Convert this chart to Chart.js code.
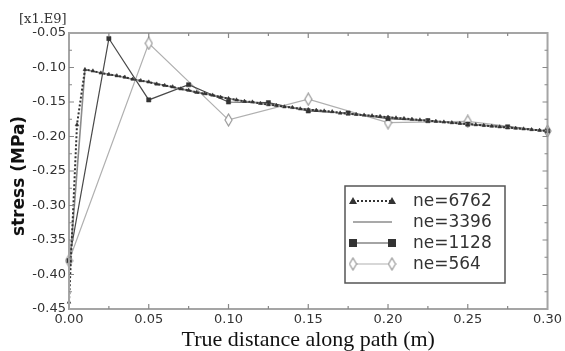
<!DOCTYPE html>
<html>
<head>
<meta charset="utf-8">
<script src="https://cdn.jsdelivr.net/npm/chart.js@4.4.1/dist/chart.umd.min.js"></script>
<style>
  html, body { margin: 0; padding: 0; background: #fff; }
  canvas { display: block; }
</style>
</head>
<body>
<canvas id="stressChart" width="565" height="351"></canvas>
<script>
// ---- data (stress in units of 1e9) ----
const x6762 = [0, 0.005, 0.010, 0.015, 0.020, 0.025, 0.030, 0.035, 0.040, 0.045,
  0.050, 0.055, 0.060, 0.065, 0.070, 0.075, 0.080, 0.085, 0.090, 0.095,
  0.100, 0.105, 0.110, 0.115, 0.120, 0.125, 0.130, 0.135, 0.140, 0.145,
  0.150, 0.155, 0.160, 0.165, 0.170, 0.175, 0.180, 0.185, 0.190, 0.195,
  0.200, 0.205, 0.210, 0.215, 0.220, 0.225, 0.230, 0.235, 0.240, 0.245,
  0.250, 0.255, 0.260, 0.265, 0.270, 0.275, 0.280, 0.285, 0.290, 0.295, 0.300];
const y6762 = [-0.440, -0.183, -0.103, -0.105, -0.108, -0.110, -0.112, -0.114, -0.117, -0.119,
  -0.121, -0.124, -0.126, -0.128, -0.131, -0.133, -0.136, -0.138, -0.140, -0.143,
  -0.145, -0.147, -0.149, -0.150, -0.152, -0.154, -0.155, -0.157, -0.158, -0.160,
  -0.161, -0.162, -0.163, -0.164, -0.166, -0.167, -0.168, -0.169, -0.170, -0.171,
  -0.172, -0.173, -0.174, -0.175, -0.176, -0.177, -0.178, -0.179, -0.180, -0.181,
  -0.182, -0.183, -0.184, -0.185, -0.186, -0.187, -0.188, -0.189, -0.190, -0.191, -0.192];

const x3396 = [0, 0.01, 0.02, 0.03, 0.04, 0.05, 0.06, 0.07, 0.08, 0.09, 0.10,
  0.11, 0.12, 0.13, 0.14, 0.15, 0.16, 0.17, 0.18, 0.19, 0.20,
  0.21, 0.22, 0.23, 0.24, 0.25, 0.26, 0.27, 0.28, 0.29, 0.30];
const y3396 = [-0.400, -0.103, -0.108, -0.112, -0.117, -0.121, -0.126, -0.131, -0.136, -0.140, -0.145,
  -0.149, -0.152, -0.155, -0.158, -0.161, -0.163, -0.166, -0.168, -0.170, -0.172,
  -0.174, -0.176, -0.178, -0.180, -0.182, -0.184, -0.186, -0.188, -0.190, -0.192];

const x1128 = [0, 0.025, 0.05, 0.075, 0.10, 0.125, 0.15, 0.175, 0.20, 0.225, 0.25, 0.275, 0.30];
const y1128 = [-0.380, -0.058, -0.147, -0.125, -0.150, -0.151, -0.163, -0.166, -0.174, -0.177, -0.182, -0.186, -0.192];

const x564 = [0, 0.05, 0.10, 0.15, 0.20, 0.25, 0.30];
const y564 = [-0.380, -0.065, -0.176, -0.146, -0.180, -0.178, -0.192];

const seriesNames = ['ne=6762', 'ne=3396', 'ne=1128', 'ne=564'];
const xTitle = 'True distance along path (m)';
const yTitle = 'stress (MPa)';
const scaleNote = '[x1.E9]';

function pairs(xs, ys) {
  return xs.map((x, i) => ({ x: x, y: ys[i] }));
}

// tall hollow diamond used for ne=564
function makeDiamond() {
  const c = document.createElement('canvas');
  c.width = 9; c.height = 14;
  const g = c.getContext('2d');
  g.beginPath();
  g.moveTo(4.5, 1); g.lineTo(8, 7); g.lineTo(4.5, 13); g.lineTo(1, 7); g.closePath();
  g.fillStyle = '#fff'; g.fill();
  g.strokeStyle = '#999'; g.lineWidth = 1.2; g.stroke();
  return c;
}
const diamond = makeDiamond();

const axisColor = '#a5a5a5';
const textColor = '#333';

// box, inward ticks, titles and legend
const decorPlugin = {
  id: 'decor',
  afterDraw(chart) {
    const ctx = chart.ctx;
    const a = chart.chartArea;
    const xs = chart.scales.x, ys = chart.scales.y;
    ctx.save();

    // frame
    ctx.strokeStyle = axisColor;
    ctx.lineWidth = 2;
    ctx.strokeRect(a.left, a.top, a.right - a.left, a.bottom - a.top);

    // ticks every 0.025 on both axes, pointing inward
    ctx.lineWidth = 1.2;
    ctx.strokeStyle = '#888';
    for (let i = 1; i < 12; i++) {
      const px = xs.getPixelForValue(i * 0.025);
      const len = i % 2 === 0 ? 5 : 3;
      ctx.beginPath();
      ctx.moveTo(px, a.bottom); ctx.lineTo(px, a.bottom - len);
      ctx.moveTo(px, a.top); ctx.lineTo(px, a.top + len);
      ctx.stroke();
    }
    for (let i = 1; i < 16; i++) {
      const py = ys.getPixelForValue(-0.45 + i * 0.025);
      const len = i % 2 === 0 ? 5 : 3;
      ctx.beginPath();
      ctx.moveTo(a.left, py); ctx.lineTo(a.left + len, py);
      ctx.moveTo(a.right, py); ctx.lineTo(a.right - len, py);
      ctx.stroke();
    }

    // titles
    ctx.fillStyle = '#111';
    ctx.font = '22px "Liberation Serif", "Times New Roman", serif';
    ctx.textAlign = 'center';
    ctx.textBaseline = 'alphabetic';
    ctx.fillText(xTitle, (a.left + a.right) / 2, 346);

    ctx.save();
    ctx.translate(20, 176);
    ctx.rotate(-Math.PI / 2);
    ctx.font = 'bold 17px "DejaVu Sans", sans-serif';
    ctx.textBaseline = 'middle';
    ctx.fillText(yTitle, 0, 0);
    ctx.restore();

    ctx.font = '13px "DejaVu Serif", serif';
    ctx.fillStyle = textColor;
    ctx.textAlign = 'left';
    ctx.textBaseline = 'middle';
    ctx.fillText(scaleNote, 19, 20);

    // legend
    const lx = 345, ly = 186, lw = 160, lh = 97;
    ctx.fillStyle = '#fff';
    ctx.fillRect(lx, ly, lw, lh);
    ctx.strokeStyle = '#555';
    ctx.lineWidth = 1.5;
    ctx.strokeRect(lx, ly, lw, lh);

    const rows = [201, 222, 243, 264];
    const x0 = 353, x1 = 392;
    chart.data.datasets.forEach((ds, i) => {
      const y = rows[i];
      ctx.save();
      ctx.strokeStyle = ds.borderColor;
      ctx.lineWidth = ds.borderWidth;
      ctx.setLineDash(ds.borderDash || []);
      ctx.beginPath();
      ctx.moveTo(x0, y); ctx.lineTo(x1, y);
      ctx.stroke();
      ctx.restore();
      [x0, x1].forEach(px => {
        if (ds.pointStyle === 'triangle') {
          ctx.fillStyle = '#333';
          ctx.beginPath();
          ctx.moveTo(px, y - 4); ctx.lineTo(px + 4, y + 3); ctx.lineTo(px - 4, y + 3);
          ctx.closePath(); ctx.fill();
        } else if (ds.pointStyle === 'rect') {
          ctx.fillStyle = '#333';
          ctx.fillRect(px - 4, y - 4, 8, 8);
        } else if (ds.pointStyle === diamond) {
          ctx.drawImage(diamond, px - 4.5, y - 7);
        }
      });
      ctx.fillStyle = textColor;
      ctx.font = '17px "DejaVu Sans", sans-serif';
      ctx.textAlign = 'left';
      ctx.textBaseline = 'middle';
      ctx.fillText(ds.label, 413, y + 1);
    });

    ctx.restore();
  }
};

const chart = new Chart(document.getElementById('stressChart'), {
  type: 'line',
  data: {
    datasets: [
      {
        label: seriesNames[0],
        data: pairs(x6762, y6762),
        borderColor: '#333',
        borderWidth: 2,
        borderDash: [2, 2],
        pointStyle: 'triangle',
        pointRadius: 2.2,
        pointBackgroundColor: '#333',
        pointBorderColor: '#333',
        pointBorderWidth: 0.5,
        clip: 6
      },
      {
        label: seriesNames[1],
        data: pairs(x3396, y3396),
        borderColor: '#8c8c8c',
        borderWidth: 1.6,
        pointStyle: 'line',
        pointRadius: 0,
        clip: 6
      },
      {
        label: seriesNames[2],
        data: pairs(x1128, y1128),
        borderColor: '#4a4a4a',
        borderWidth: 1.2,
        pointStyle: 'rect',
        pointRadius: 3,
        pointBackgroundColor: '#333',
        pointBorderColor: '#333',
        pointBorderWidth: 0.5,
        clip: 6
      },
      {
        label: seriesNames[3],
        data: pairs(x564, y564),
        borderColor: '#b0b0b0',
        borderWidth: 1.2,
        pointStyle: diamond,
        pointRadius: 5,
        clip: 8
      }
    ]
  },
  options: {
    responsive: false,
    animation: false,
    devicePixelRatio: 1,
    tension: 0,
    layout: { padding: { left: 0, top: 33, right: 15, bottom: 0 } },
    plugins: {
      legend: { display: false },
      tooltip: { enabled: false }
    },
    scales: {
      x: {
        type: 'linear',
        min: 0,
        max: 0.3,
        grid: { display: false, drawTicks: false },
        border: { display: false },
        ticks: {
          stepSize: 0.05,
          padding: 3,
          color: textColor,
          font: { family: '"DejaVu Sans", sans-serif', size: 13 },
          maxRotation: 0,
          callback: v => Number(v).toFixed(2)
        },
        afterFit: s => { s.height = 42; }
      },
      y: {
        type: 'linear',
        min: -0.45,
        max: -0.05,
        grid: { display: false, drawTicks: false },
        border: { display: false },
        ticks: {
          stepSize: 0.05,
          padding: 3,
          color: textColor,
          font: { family: '"DejaVu Sans", sans-serif', size: 13 },
          callback: v => Number(v).toFixed(2)
        },
        afterFit: s => { s.width = 69; }
      }
    }
  },
  plugins: [decorPlugin]
});
</script>
</body>
</html>
